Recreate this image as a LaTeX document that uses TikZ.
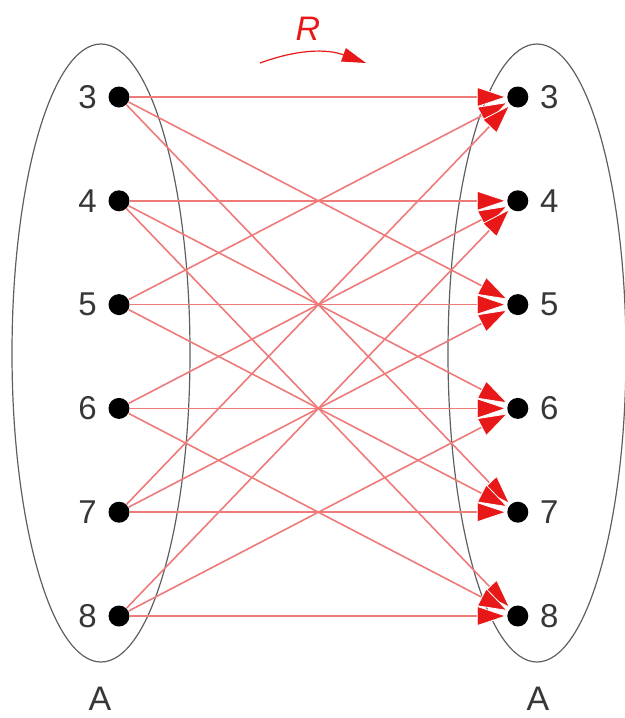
\documentclass[tikz,border=0pt]{standalone}
\usepackage{fontspec}
\setmainfont{Liberation Sans}
\usetikzlibrary{shapes.geometric, arrows.meta, positioning}
\definecolor{relred}{RGB}{232,24,24}
\definecolor{linkpink}{RGB}{238,122,122}
\definecolor{setgray}{RGB}{95,95,95}
\definecolor{textgray}{RGB}{55,55,55}
\tikzset{
  % Set and element styles
  setshape/.style={ellipse, draw=setgray, line width=0.6pt, minimum width=89pt, minimum height=309pt, inner sep=0pt},
  dot/.style={circle, fill=black, minimum size=10.5pt, inner sep=0pt},
  numlabel/.style={font=\fontsize{16.5}{18}\selectfont, text=textgray, inner sep=0pt},
  setname/.style={font=\fontsize{17}{20}\selectfont, text=textgray, inner sep=0pt},
  relname/.style={font=\fontsize{17}{20}\selectfont\itshape, text=relred, inner sep=0pt},
  % Relation arrows
  relarrow/.style={-{Triangle[length=15pt, width=10pt, color=white, fill=relred, line width=0.4pt]}, draw=linkpink, line width=0.8pt},
  relbend/.style={-{Triangle[length=12pt, width=7pt, color=relred]}, draw=relred, line width=0.6pt},
}

\begin{document}
\begin{tikzpicture}[x=1pt, y=1pt, node distance=41pt]
    \useasboundingbox (0,0) rectangle (312.5,-359);

    % The two copies of A
    \node[setshape] (setl) at (50.5,-176.5) {};
    \node[setshape] (setr) at (268.5,-176.5) {};
    \node[setname] (namel) at (50,-349.5) {A};
    \node[setname] (namer) at (269,-349.5) {A};

    % Left elements
    \node[dot, label={[numlabel, label distance=5.5pt]left:3}] (l3) at (59.5,-48.5) {};
    \node[dot, below=of l3, label={[numlabel, label distance=5.5pt]left:4}] (l4) {};
    \node[dot, below=of l4, label={[numlabel, label distance=5.5pt]left:5}] (l5) {};
    \node[dot, below=of l5, label={[numlabel, label distance=5.5pt]left:6}] (l6) {};
    \node[dot, below=of l6, label={[numlabel, label distance=5.5pt]left:7}] (l7) {};
    \node[dot, below=of l7, label={[numlabel, label distance=5.5pt]left:8}] (l8) {};

    % Right elements
    \node[dot, right=188.5pt of l3, label={[numlabel, label distance=5.5pt]right:3}] (r3) {};
    \node[dot, below=of r3, label={[numlabel, label distance=5.5pt]right:4}] (r4) {};
    \node[dot, below=of r4, label={[numlabel, label distance=5.5pt]right:5}] (r5) {};
    \node[dot, below=of r5, label={[numlabel, label distance=5.5pt]right:6}] (r6) {};
    \node[dot, below=of r6, label={[numlabel, label distance=5.5pt]right:7}] (r7) {};
    \node[dot, below=of r7, label={[numlabel, label distance=5.5pt]right:8}] (r8) {};

    % Relation R
    \node[relname] (rname) at (154,-14.5) {R};
    \coordinate (rstart) at (130,-31.5);
    \coordinate (rend) at (183,-31.5);
    \draw[relbend] (rstart) to[bend left=20] (rend);

    % Pairs with the same parity
    \draw[relarrow] (l3) -- (r3);
    \draw[relarrow] (l3) -- (r5);
    \draw[relarrow] (l3) -- (r7);
    \draw[relarrow] (l4) -- (r4);
    \draw[relarrow] (l4) -- (r6);
    \draw[relarrow] (l4) -- (r8);
    \draw[relarrow] (l5) -- (r3);
    \draw[relarrow] (l5) -- (r5);
    \draw[relarrow] (l5) -- (r7);
    \draw[relarrow] (l6) -- (r4);
    \draw[relarrow] (l6) -- (r6);
    \draw[relarrow] (l6) -- (r8);
    \draw[relarrow] (l7) -- (r3);
    \draw[relarrow] (l7) -- (r5);
    \draw[relarrow] (l7) -- (r7);
    \draw[relarrow] (l8) -- (r4);
    \draw[relarrow] (l8) -- (r6);
    \draw[relarrow] (l8) -- (r8);
  \end{tikzpicture}
\end{document}
